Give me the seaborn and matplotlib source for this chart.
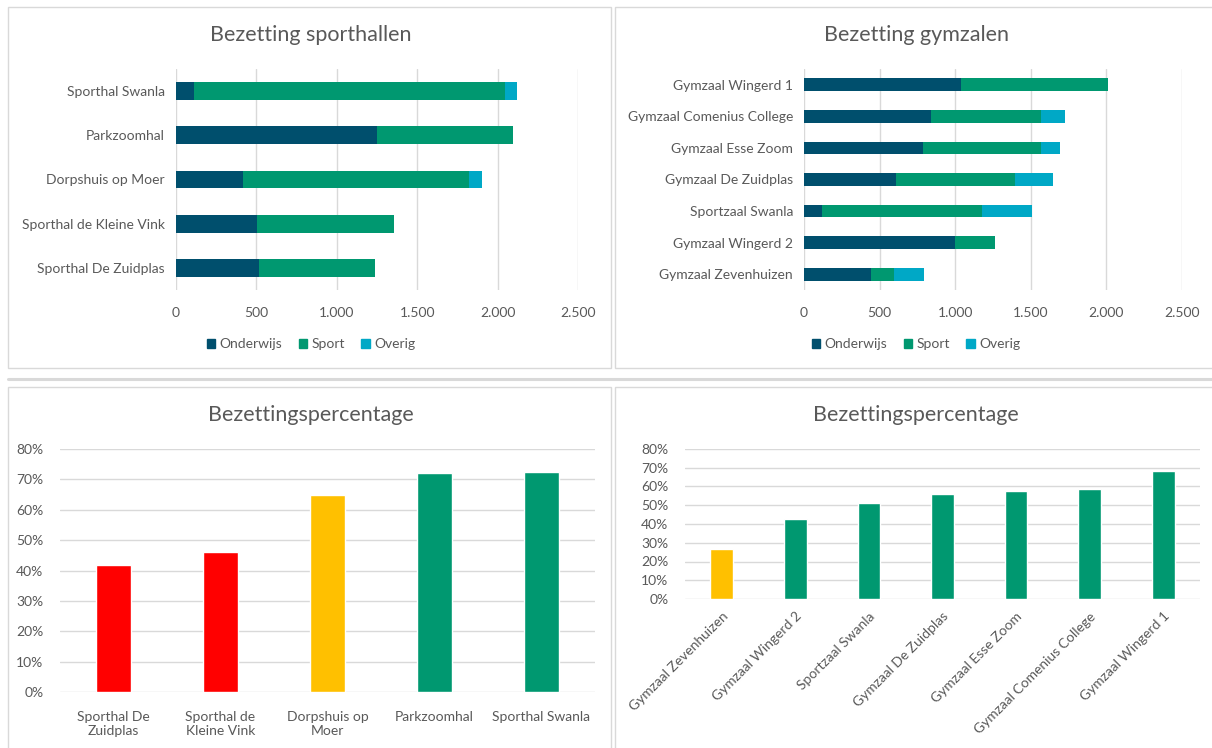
import numpy as np
import matplotlib
matplotlib.use("Agg")
import matplotlib.pyplot as plt
import seaborn as sns
from matplotlib.patches import Rectangle, Patch
from matplotlib.lines import Line2D
from matplotlib.ticker import FuncFormatter, MultipleLocator

# ---- data ----
hallen = ["Sporthal Swanla", "Parkzoomhal", "Dorpshuis op Moer",
          "Sporthal de Kleine Vink", "Sporthal De Zuidplas"]
hallen_onderwijs = np.array([114, 1252, 416, 505, 515])
hallen_sport = np.array([1929, 844, 1409, 851, 723])
hallen_overig = np.array([80, 0, 78, 0, 0])

zalen = ["Gymzaal Wingerd 1", "Gymzaal Comenius College", "Gymzaal Esse Zoom",
         "Gymzaal De Zuidplas", "Sportzaal Swanla", "Gymzaal Wingerd 2",
         "Gymzaal Zevenhuizen"]
zalen_onderwijs = np.array([1040, 838, 784, 607, 118, 996, 443])
zalen_sport = np.array([968, 730, 784, 786, 1058, 264, 149])
zalen_overig = np.array([0, 156, 125, 254, 330, 0, 199])

pct_hallen_labels = ["Sporthal De\nZuidplas", "Sporthal de\nKleine Vink",
                     "Dorpshuis op\nMoer", "Parkzoomhal", "Sporthal Swanla"]
pct_hallen = [0.417, 0.460, 0.649, 0.720, 0.723]
pct_hallen_kleur = ["rood", "rood", "geel", "groen", "groen"]

pct_zalen_labels = ["Gymzaal Zevenhuizen", "Gymzaal Wingerd 2", "Sportzaal Swanla",
                    "Gymzaal De Zuidplas", "Gymzaal Esse Zoom",
                    "Gymzaal Comenius College", "Gymzaal Wingerd 1"]
pct_zalen = [0.267, 0.427, 0.512, 0.560, 0.576, 0.587, 0.684]
pct_zalen_kleur = ["geel", "groen", "groen", "groen", "groen", "groen", "groen"]

# ---- style ----
C_ONDERWIJS = "#004F6D"
C_SPORT = "#009870"
C_OVERIG = "#00A8C6"
STATUS = {"rood": "#FF0000", "geel": "#FFC000", "groen": "#009870"}
TEXT = "#595959"
GRID = "#D9D9D9"

sns.set_theme(style="white")
plt.rcParams["font.family"] = ["Lato", "DejaVu Sans"]
plt.rcParams["text.color"] = TEXT
plt.rcParams["xtick.color"] = TEXT
plt.rcParams["ytick.color"] = TEXT

W, H = 1212, 748
fig = plt.figure(figsize=(W / 100, H / 100), dpi=100)


def px_axes(x0, y0, x1, y1):
    # axes from pixel box (top-left origin)
    return fig.add_axes([x0 / W, 1 - y1 / H, (x1 - x0) / W, (y1 - y0) / H])


def panel_box(x0, y0, x1, y1):
    fig.add_artist(Rectangle((x0 / W, 1 - y1 / H), (x1 - x0) / W, (y1 - y0) / H,
                             transform=fig.transFigure, fill=False,
                             edgecolor=GRID, linewidth=1.0))


def clean(ax):
    for s in ax.spines.values():
        s.set_visible(False)
    ax.tick_params(length=0, labelsize=10)
    ax.set_xlabel("")
    ax.set_ylabel("")


thousands = FuncFormatter(lambda v, p: f"{v:,.0f}".replace(",", "."))
percent = FuncFormatter(lambda v, p: f"{v:.0%}")


def stacked(ax, names, ond, spo, ove):
    # draw totals first, then overlay the lower segments
    sns.barplot(x=ond + spo + ove, y=names, orient="h", color=C_OVERIG,
                saturation=1, width=0.4, linewidth=0, ax=ax)
    sns.barplot(x=ond + spo, y=names, orient="h", color=C_SPORT,
                saturation=1, width=0.4, linewidth=0, ax=ax)
    sns.barplot(x=ond, y=names, orient="h", color=C_ONDERWIJS,
                saturation=1, width=0.4, linewidth=0, ax=ax)
    clean(ax)
    ax.set_xlim(0, 2500)
    ax.xaxis.set_major_locator(MultipleLocator(500))
    ax.xaxis.set_major_formatter(thousands)
    ax.grid(axis="x", color=GRID, linewidth=1)
    ax.set_axisbelow(True)
    ax.tick_params(axis="x", pad=12)
    ax.tick_params(axis="y", pad=8)


def legend(ax, cx):
    handles = [Patch(color=C_ONDERWIJS, label="Onderwijs"),
               Patch(color=C_SPORT, label="Sport"),
               Patch(color=C_OVERIG, label="Overig")]
    ax.legend(handles=handles, loc="center", bbox_to_anchor=(cx / W, 1 - 344 / H),
              bbox_transform=fig.transFigure, ncol=3, frameon=False,
              handlelength=0.6, handleheight=0.6, handletextpad=0.3,
              columnspacing=1.2, fontsize=10, labelcolor=TEXT)


# ---- panel frames ----
panel_box(8, 7, 611, 368)
panel_box(615, 7, 1213, 368)
panel_box(8, 387, 611, 749)
panel_box(615, 387, 1213, 749)
fig.add_artist(Line2D([8 / W, 1], [1 - 379 / H] * 2, transform=fig.transFigure,
                      color=GRID, linewidth=2.2))

# ---- top left: sporthallen ----
ax1 = px_axes(176, 69, 578, 290)
stacked(ax1, hallen, hallen_onderwijs, hallen_sport, hallen_overig)
legend(ax1, 311)
fig.text(311 / W, 1 - 35 / H, "Bezetting sporthallen", ha="center", va="center",
         fontsize=15.5, color=TEXT)

# ---- top right: gymzalen ----
ax2 = px_axes(804, 69, 1182, 290)
stacked(ax2, zalen, zalen_onderwijs, zalen_sport, zalen_overig)
legend(ax2, 916)
fig.text(916 / W, 1 - 35 / H, "Bezetting gymzalen", ha="center", va="center",
         fontsize=15.5, color=TEXT)

# ---- bottom left: percentages sporthallen ----
ax3 = px_axes(60, 449, 595, 692)
sns.barplot(x=pct_hallen_labels, y=pct_hallen, hue=pct_hallen_labels,
            palette=[STATUS[k] for k in pct_hallen_kleur], saturation=1,
            width=0.32, legend=False, ax=ax3)
clean(ax3)
ax3.set_ylim(0, 0.8)
ax3.yaxis.set_major_locator(MultipleLocator(0.1))
ax3.yaxis.set_major_formatter(percent)
ax3.grid(axis="y", color=GRID, linewidth=1)
ax3.set_axisbelow(True)
ax3.tick_params(axis="x", pad=14)
ax3.tick_params(axis="y", pad=12)
fig.text(311 / W, 1 - 415 / H, "Bezettingspercentage", ha="center", va="center",
         fontsize=15.5, color=TEXT)

# ---- bottom right: percentages gymzalen ----
ax4 = px_axes(685, 449, 1200, 599)
sns.barplot(x=pct_zalen_labels, y=pct_zalen, hue=pct_zalen_labels,
            palette=[STATUS[k] for k in pct_zalen_kleur], saturation=1,
            width=0.31, legend=False, ax=ax4)
clean(ax4)
ax4.set_ylim(0, 0.8)
ax4.yaxis.set_major_locator(MultipleLocator(0.1))
ax4.yaxis.set_major_formatter(percent)
ax4.grid(axis="y", color=GRID, linewidth=1)
ax4.set_axisbelow(True)
ax4.tick_params(axis="y", pad=12)
ax4.tick_params(axis="x", pad=8)
plt.setp(ax4.get_xticklabels(), rotation=45, ha="right", rotation_mode="anchor")
fig.text(916 / W, 1 - 415 / H, "Bezettingspercentage", ha="center", va="center",
         fontsize=15.5, color=TEXT)

fig.savefig("out.png", dpi=100, facecolor="white")
